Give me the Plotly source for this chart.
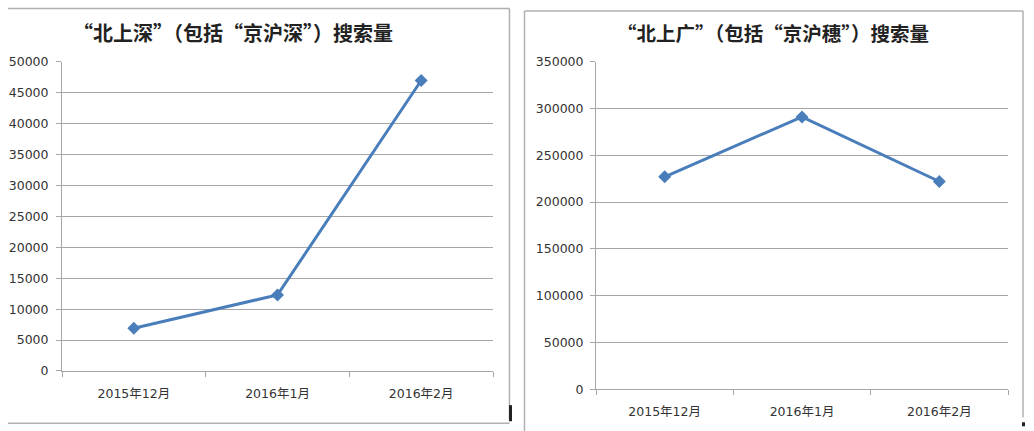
import plotly.graph_objects as go

W, H = 1034, 431

months = ["2015年12月", "2016年1月", "2016年2月"]
bss_values = [6900, 12300, 47000]        # 北上深（京沪深）
bsg_values = [227000, 291000, 222000]    # 北上广（京沪穗）

left_title = "“北上深”（包括“京沪深”）搜索量"
right_title = "“北上广”（包括“京沪穗”）搜索量"

LINE = "#4a7ebb"
GRID = "#a6a6a6"
TXT = "#333333"
FONT = "DejaVu Sans, Noto Sans CJK SC, sans-serif"
TFONT = "Noto Sans CJK SC, sans-serif"

def px(x):
    return x / W

def py(y):
    # screen-pixel target -> paper fraction (compensates the observed vertical mapping)
    yy = (y - 8.4) / 0.959
    return 1 - yy / H

fig = go.Figure()
fig.add_trace(go.Scatter(x=months, y=bss_values, mode="lines+markers",
                         line=dict(color=LINE, width=3),
                         marker=dict(symbol="diamond", size=10, color=LINE),
                         xaxis="x", yaxis="y", showlegend=False))
fig.add_trace(go.Scatter(x=months, y=bsg_values, mode="lines+markers",
                         line=dict(color=LINE, width=3),
                         marker=dict(symbol="diamond", size=10, color=LINE),
                         xaxis="x2", yaxis="y2", showlegend=False))

xcommon = dict(type="category", range=[-0.5, 2.5], showgrid=False,
               showline=True, linecolor=GRID, linewidth=1,
               ticks="outside", ticklen=5, tickcolor=GRID, tickson="boundaries",
               tickfont=dict(family=FONT, size=12.5, color=TXT),
               ticklabelstandoff=11, fixedrange=True)
ycommon = dict(showgrid=True, gridcolor=GRID, gridwidth=1,
               showline=True, linecolor=GRID, linewidth=1,
               ticks="outside", ticklen=5, tickcolor=GRID,
               tickfont=dict(family=FONT, size=12.5, color=TXT),
               tickformat="d", zeroline=False, fixedrange=True)

fig.update_layout(
    width=W, height=H,
    margin=dict(l=0, r=0, t=0, b=0),
    paper_bgcolor="white", plot_bgcolor="white",
    xaxis=dict(domain=[px(62), px(493)], anchor="y", **xcommon),
    yaxis=dict(domain=[py(369), py(62)], anchor="x", range=[0, 50000],
               dtick=5000, ticklabelstandoff=5, **ycommon),
    xaxis2=dict(domain=[px(596), px(1008)], anchor="y2", **xcommon),
    yaxis2=dict(domain=[py(387.3), py(61.7)], anchor="x2", range=[0, 350000],
                dtick=50000, ticklabelstandoff=4, **ycommon),
    annotations=[
        dict(text="<b>" + left_title + "</b>", x=px(233), y=py(33),
             xref="paper", yref="paper", xanchor="center", yanchor="middle",
             showarrow=False, font=dict(family=TFONT, size=20, color="#222222")),
        dict(text="<b>" + right_title + "</b>", x=px(773), y=py(33),
             xref="paper", yref="paper", xanchor="center", yanchor="middle",
             showarrow=False, font=dict(family=TFONT, size=19.5, color="#222222")),
    ],
    shapes=[
        # left box (top, right, bottom borders)
        dict(type="line", xref="paper", yref="paper", x0=px(8), x1=px(509.5), y0=py(9), y1=py(9),
             line=dict(color="#b0b0b0", width=1.5)),
        dict(type="line", xref="paper", yref="paper", x0=px(509.5), x1=px(509.5), y0=py(9), y1=py(418),
             line=dict(color="#b0b0b0", width=1.5)),
        dict(type="line", xref="paper", yref="paper", x0=px(8), x1=px(509.5), y0=py(421), y1=py(421),
             line=dict(color="#b0b0b0", width=1.5)),
        dict(type="rect", xref="paper", yref="paper", x0=px(509), x1=px(512), y0=py(403), y1=py(419),
             line=dict(width=0), fillcolor="#222222"),
        # right box
        dict(type="line", xref="paper", yref="paper", x0=px(524.5), x1=px(1023), y0=py(11.5), y1=py(11.5),
             line=dict(color="#b0b0b0", width=1.5)),
        dict(type="line", xref="paper", yref="paper", x0=px(524.5), x1=px(524.5), y0=py(11.5), y1=py(440),
             line=dict(color="#b0b0b0", width=1.5)),
        dict(type="line", xref="paper", yref="paper", x0=px(1023), x1=px(1023), y0=py(11.5), y1=py(415),
             line=dict(color="#b0b0b0", width=1.5)),
        dict(type="rect", xref="paper", yref="paper", x0=px(1022), x1=px(1025), y0=py(420), y1=py(424),
             line=dict(width=0), fillcolor="#222222"),
    ],
)

fig.write_html(
    "out.html",
    config={"displayModeBar": False},
    post_script=("document.body.style.margin='0';document.body.style.overflow='hidden';"),
)
